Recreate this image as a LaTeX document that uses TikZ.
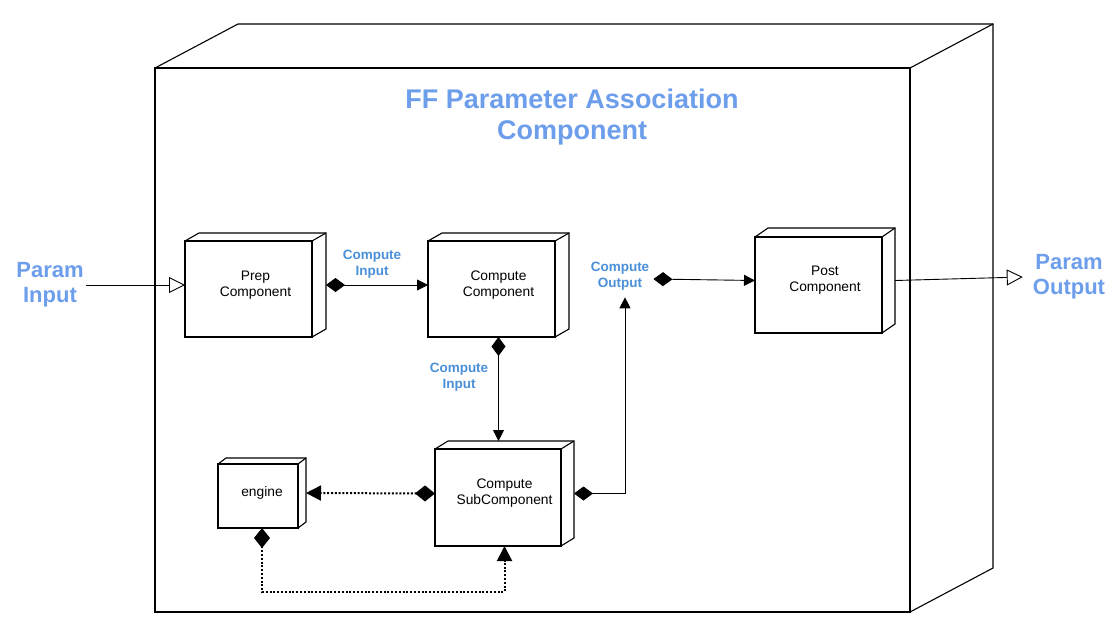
\documentclass[tikz,border=0pt]{standalone}
\usepackage{fontspec}
\setmainfont{Liberation Sans}
\usetikzlibrary{arrows.meta}
\definecolor{bigblue}{RGB}{109,158,235}
\definecolor{smallblue}{RGB}{74,144,217}
\tikzset{
  cubebox/.style={minimum width=#1, inner sep=0pt, outer sep=0pt, align=center,
     font=\fontsize{13.8}{16}\selectfont},
  cubeline/.style={line width=1.1pt, line join=miter},
  biglabel/.style={text=bigblue, font=\fontsize{22}{25}\selectfont\bfseries, align=center, inner sep=2pt},
  smalllabel/.style={text=smallblue, font=\fontsize{13.5}{16}\selectfont\bfseries, align=center, inner sep=1pt},
  titlelabel/.style={text=bigblue, font=\fontsize{27}{31}\selectfont\bfseries, align=center},
  conn/.style={line width=0.9pt},
  dotconn/.style={line width=2pt, dash pattern=on 2pt off 1.8pt},
  dia/.style={{Diamond[length=19pt,width=14pt]}-{Triangle[length=11pt,width=11pt]}},
  diadot/.style={{Diamond[length=20pt,width=16pt]}-{Triangle[length=15pt,width=15pt]}},
  opentri/.style={-{Triangle[open,length=16pt,width=16pt,fill=white,line width=0.9pt]}},
}
% name, dx, dy : node covers the whole cube; front face at lower left
\newcommand\drawcube[3]{%
  \draw[cubeline] (#1.south west) rectangle ([shift={(-#2,#3)}]#1.north east);
  \draw[cubeline] ([shift={(0,#3)}]#1.north west) -- ([shift={(#2,0)}]#1.north west)
     -- (#1.north east) -- ([shift={(0,-#3)}]#1.south east) -- ([shift={(-#2,0)}]#1.south east);
  \draw[cubeline] ([shift={(-#2,#3)}]#1.north east) -- (#1.north east);
}
\begin{document}
\begin{tikzpicture}[x=1pt,y=-1pt]
\useasboundingbox[fill=white] (0,0) rectangle (1120,625);

% outer component
\node[cubebox=838pt, minimum height=588pt] (outer) at (574,318) {};
\drawcube{outer}{83}{44}
\node[titlelabel] (title) at (572,117) {FF Parameter Association\\Component};

% inner components
\node[cubebox=141pt, minimum height=104pt] (prep) at (255.5,285) {Prep\\Component};
\drawcube{prep}{14}{8}
\node[cubebox=141pt, minimum height=104pt] (comp) at (498.5,285) {Compute\\Component};
\drawcube{comp}{14}{8}
\node[cubebox=140pt, minimum height=105pt] (post) at (825,280.5) {Post\\Component};
\drawcube{post}{13}{9}
\node[cubebox=139pt, minimum height=105pt] (sub) at (504.5,493.5) {Compute\\SubComponent};
\drawcube{sub}{13}{8}
\node[cubebox=88pt, minimum height=70pt] (engine) at (262,493) {engine};
\drawcube{engine}{8}{6}

% labels
\node[biglabel] (pin) at (50,285) {Param\\Input};
\node[biglabel] (pout) at (1069,277) {Param\\Output};
\node[smalllabel] (ci1) at (372,264) {Compute\\Input};
\node[smalllabel] (ci2) at (459,377) {Compute\\Input};
\node[smalllabel, inner sep=4pt] (cout) at (620,276) {Compute\\Output};
\coordinate (coutin) at ([xshift=5pt, yshift=-3pt]cout.south);

% connectors
\draw[conn, opentri] (pin.east) -- (prep.west);
\draw[conn, dia] (prep.east) -- (comp.west);
\draw[conn, dia] (comp.south) -- (comp.south |- sub.north);
\draw[conn, dia] (sub.east) -| (coutin);
\draw[conn, dia] ([yshift=-3pt]cout.east) -- (post.west);
\draw[conn, opentri] (post.east) -- ([xshift=-8pt]pout.west);
\draw[dotconn, diadot] (sub.west) -- (engine.east);
\draw[dotconn, diadot] (engine.south) -- ++(0,64) -| (sub.south);
\end{tikzpicture}
\end{document}
